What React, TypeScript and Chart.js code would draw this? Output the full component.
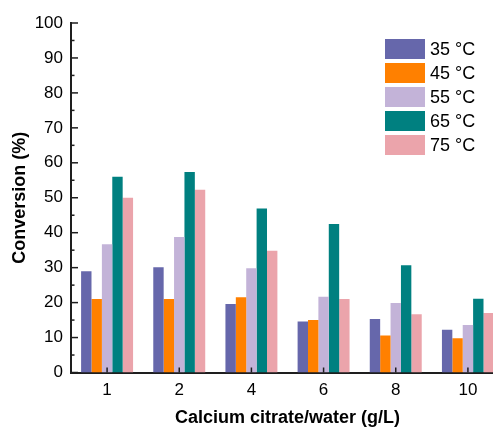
import React, { useEffect, useRef } from 'react';
import { Chart, registerables } from 'chart.js';

Chart.register(...registerables);

const categories = ['1', '2', '4', '6', '8', '10'];
const seriesLabels = ['35 \u00B0C', '45 \u00B0C', '55 \u00B0C', '65 \u00B0C', '75 \u00B0C'];
const conv35 = [29.0, 30.1, 19.6, 14.6, 15.3, 12.2];
const conv45 = [21.0, 21.0, 21.5, 15.0, 10.6, 9.8];
const conv55 = [36.7, 38.8, 29.8, 21.7, 19.9, 13.6];
const conv65 = [56.0, 57.4, 46.9, 42.5, 30.7, 21.1];
const conv75 = [50.0, 52.3, 34.8, 21.0, 16.7, 17.0];
const seriesColors = ['#6667AB', '#FF8000', '#C3B3D8', '#008080', '#EBA4AB'];
const yMin = 0;
const yMax = 100;
const yStep = 10;

const FONT = "'Liberation Sans', Arial, Helvetica, sans-serif";
const AXIS_COLOR = '#1e1e1e';

const decorPlugin = {
  id: 'decor',
  afterDraw(chart: any) {
    const ctx = chart.ctx;
    const xs = chart.scales.x;
    const ys = chart.scales.y;
    const area = chart.chartArea;
    ctx.save();
    ctx.strokeStyle = AXIS_COLOR;
    ctx.lineWidth = 1.5;
    for (let v = yMin; v <= yMax; v += yStep / 2) {
      const py = ys.getPixelForValue(v);
      const len = v % yStep === 0 ? 7 : 3.5;
      ctx.beginPath();
      ctx.moveTo(area.left, py);
      ctx.lineTo(area.left + len, py);
      ctx.stroke();
    }
    for (let i = 0; i < categories.length; i++) {
      const px = xs.getPixelForValue(i);
      ctx.beginPath();
      ctx.moveTo(px, area.bottom);
      ctx.lineTo(px, area.bottom - 5);
      ctx.stroke();
    }
    const boxX = 385;
    const boxW = 40;
    const boxH = 20;
    const startY = 39;
    const rowH = 24;
    ctx.font = `18px ${FONT}`;
    ctx.textBaseline = 'middle';
    ctx.textAlign = 'left';
    chart.data.datasets.forEach((ds: any, i: number) => {
      const y0 = startY + i * rowH;
      ctx.fillStyle = ds.backgroundColor;
      ctx.fillRect(boxX, y0, boxW, boxH);
      ctx.fillStyle = '#000';
      ctx.fillText(ds.label, boxX + boxW + 5, y0 + boxH / 2 + 1);
    });
    ctx.restore();
  },
};

export default function App() {
  const ref = useRef<HTMLCanvasElement>(null);
  useEffect(() => {
    if (!ref.current) return;
    const values = [conv35, conv45, conv55, conv65, conv75];
    const chart = new Chart(ref.current, {
      type: 'bar',
      data: {
        labels: categories,
        datasets: seriesLabels.map((label, i) => ({
          label,
          data: values[i],
          backgroundColor: seriesColors[i],
          borderWidth: 0,
          categoryPercentage: 0.72,
          barPercentage: 1.0,
        })),
      },
      options: {
        animation: false,
        responsive: true,
        maintainAspectRatio: false,
        layout: { padding: { top: 23, right: 2, left: 0, bottom: 0 } },
        plugins: {
          legend: { display: false },
          tooltip: { enabled: false },
        },
        scales: {
          x: {
            grid: { display: false, drawTicks: false },
            border: { display: true, color: AXIS_COLOR, width: 2 },
            ticks: { color: '#000', font: { family: FONT, size: 17 }, padding: 8, maxRotation: 0 },
            title: {
              display: true,
              text: 'Calcium citrate/water (g/L)',
              color: '#000',
              font: { family: FONT, size: 18, weight: 'bold' },
              padding: { top: 0, bottom: 0 },
            },
            afterFit: (s: any) => { s.height = 56.5; },
          },
          y: {
            min: yMin,
            max: yMax,
            grid: { display: false, drawTicks: false },
            border: { display: true, color: AXIS_COLOR, width: 2 },
            ticks: { stepSize: yStep, color: '#000', font: { family: FONT, size: 17 }, padding: 8 },
            title: {
              display: true,
              text: 'Conversion (%)',
              color: '#000',
              font: { family: FONT, size: 18, weight: 'bold' },
              padding: { top: 9, bottom: 0 },
            },
            afterFit: (s: any) => { s.width = 71; },
          },
        },
      },
      plugins: [decorPlugin],
    });
    return () => chart.destroy();
  }, []);
  return (
    <div style={{ position: 'fixed', left: 0, top: 0, width: 493, height: 429, overflow: 'hidden', background: '#fff' }}>
      <div style={{ position: 'relative', width: 506, height: 429 }}>
        <canvas ref={ref} />
      </div>
    </div>
  );
}
